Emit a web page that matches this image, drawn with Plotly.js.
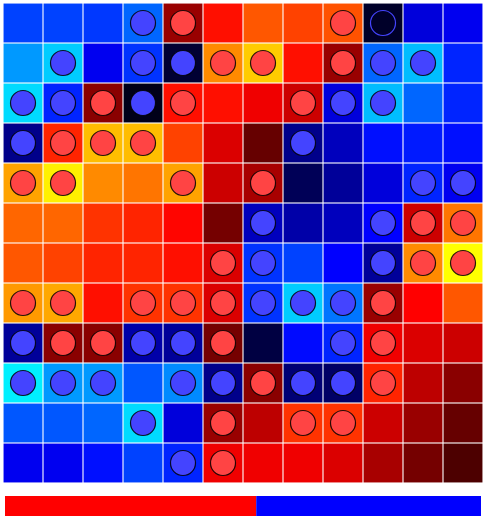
<!DOCTYPE html>
<html><head><meta charset="utf-8">
<script src="https://cdn.plot.ly/plotly-3.0.1.min.js"></script>
<style>html,body{margin:0;padding:0;background:#fff;}#chart{width:487px;height:523px;}</style>
</head><body><div id="chart"></div>
<script>
// Influence map (-1 = blue side, +1 = red side), rows top to bottom
const influence = [
  [-0.63,-0.63,-0.61,-0.70, 0.30, 0.53, 0.67, 0.63, 0.66,-0.08,-0.43,-0.47],
  [-0.80,-0.90,-0.47,-0.60,-0.10, 0.77, 0.90, 0.53, 0.30,-0.70,-0.87,-0.57],
  [-0.93,-0.57, 0.27,-0.05, 0.53, 0.53, 0.47, 0.40,-0.43,-0.87,-0.70,-0.57],
  [-0.27, 0.57, 0.87, 0.87, 0.63, 0.43, 0.20,-0.27,-0.37,-0.53,-0.55,-0.53],
  [ 0.82, 0.97, 0.77, 0.73, 0.82, 0.40, 0.33,-0.17,-0.30,-0.43,-0.57,-0.47],
  [ 0.70, 0.70, 0.60, 0.57, 0.51, 0.23,-0.37,-0.33,-0.37,-0.50, 0.40, 0.73],
  [ 0.67, 0.63, 0.57, 0.57, 0.53, 0.43,-0.60,-0.63,-0.50,-0.30, 0.77, 1.00],
  [ 0.80, 0.83, 0.53, 0.60, 0.60, 0.43,-0.60,-0.90,-0.73, 0.30, 0.50, 0.67],
  [-0.30, 0.27, 0.27,-0.33,-0.30, 0.23,-0.13,-0.52,-0.57, 0.47, 0.43, 0.40],
  [-0.97,-0.80,-0.80,-0.67,-0.77,-0.27, 0.27,-0.23,-0.20, 0.57, 0.37, 0.27],
  [-0.67,-0.67,-0.70,-0.93,-0.43, 0.30, 0.37, 0.60, 0.60, 0.40, 0.30, 0.20],
  [-0.47,-0.47,-0.53,-0.63,-0.57, 0.47, 0.47, 0.47, 0.43, 0.33, 0.23, 0.15]
];
// Stones: R = red, B = blue, o = last/empty marker, . = none
const stones = [
  "...BR...Ro..",
  ".B.BBRR.RBB.",
  "BBRBR..RBB..",
  "BRRR...B....",
  "RR..R.R...BB",
  "......B..BRR",
  ".....RB..BRR",
  "RR.RRRBBBR..",
  "BRRBBR..BR..",
  "BBB.BBRBBR..",
  "...B.R.RR...",
  "....BR......"
];
const scoreLabels = ["Red", "Blue"];
const scoreValues = [76, 68];

const N = influence.length;
const cols = Array.from({length: N}, (_, i) => i);

function collect(ch) {
  const xs = [], ys = [];
  stones.forEach((row, r) => row.split("").forEach((c, k) => { if (c === ch) { xs.push(k); ys.push(r); } }));
  return {xs, ys};
}
const red = collect("R"), blue = collect("B"), hollow = collect("o");

const colorscale = [
  [0.00, "#00ffff"],
  [0.25, "#0000ff"],
  [0.50, "#000000"],
  [0.75, "#ff0000"],
  [1.00, "#ffff00"]
];

const traces = [
  {type: "heatmap", z: influence, x: cols, y: cols, zmin: -1, zmax: 1,
   colorscale: colorscale, showscale: false, hoverinfo: "skip", xaxis: "x", yaxis: "y"},
  {type: "scatter", mode: "markers", x: red.xs, y: red.ys, xaxis: "x", yaxis: "y",
   marker: {size: 25, color: "#ff4444", line: {color: "rgba(0,0,0,0.85)", width: 1.2}}, hoverinfo: "skip"},
  {type: "scatter", mode: "markers", x: blue.xs, y: blue.ys, xaxis: "x", yaxis: "y",
   marker: {size: 25, color: "#4444ff", line: {color: "rgba(0,0,0,0.85)", width: 1.2}}, hoverinfo: "skip"},
  {type: "scatter", mode: "markers", x: hollow.xs, y: hollow.ys, xaxis: "x", yaxis: "y",
   marker: {size: 25, color: "rgba(0,0,0,0)", line: {color: "#4444ff", width: 1.2}}, hoverinfo: "skip"},
  {type: "bar", orientation: "h", x: [scoreValues[0]], y: [0], base: [0], width: 1,
   marker: {color: "#ff0000", line: {width: 0}}, xaxis: "x2", yaxis: "y2", name: scoreLabels[0], hoverinfo: "skip"},
  {type: "bar", orientation: "h", x: [scoreValues[1]], y: [0], base: [scoreValues[0]], width: 1,
   marker: {color: "#0000ff", line: {width: 0}}, xaxis: "x2", yaxis: "y2", name: scoreLabels[1], hoverinfo: "skip"}
];

const shapes = [];
for (let i = 0; i <= N; i++) {
  const p = i - 0.5;
  shapes.push({type: "line", xref: "x", yref: "y", x0: p, x1: p, y0: -0.5, y1: N - 0.5,
               line: {color: "rgba(255,255,255,0.55)", width: 2}, layer: "above"});
  shapes.push({type: "line", xref: "x", yref: "y", x0: -0.5, x1: N - 0.5, y0: p, y1: p,
               line: {color: "rgba(255,255,255,0.55)", width: 2}, layer: "above"});
}

const H = 523, W = 487, mt = 3, mb = 7, ml = 3, mr = 4;
const ph = H - mt - mb, pw = W - ml - mr;
const layout = {
  width: W, height: H,
  margin: {l: ml, r: mr, t: mt, b: mb, pad: 0},
  paper_bgcolor: "#ffffff", plot_bgcolor: "#ffffff",
  showlegend: false, barmode: "overlay",
  xaxis: {domain: [0, 1], range: [-0.5, N - 0.5], visible: false, fixedrange: true},
  yaxis: {domain: [(516 - 483) / ph, 1], range: [N - 0.5, -0.5], visible: false, fixedrange: true},
  xaxis2: {anchor: "y2", domain: [2 / pw, 478 / pw], range: [0, scoreValues[0] + scoreValues[1]], visible: false},
  yaxis2: {anchor: "x2", domain: [0, 20 / ph], range: [-0.5, 0.5], visible: false},
  shapes: shapes
};

Plotly.newPlot("chart", traces, layout, {displayModeBar: false, staticPlot: true});
</script>
</body></html>
